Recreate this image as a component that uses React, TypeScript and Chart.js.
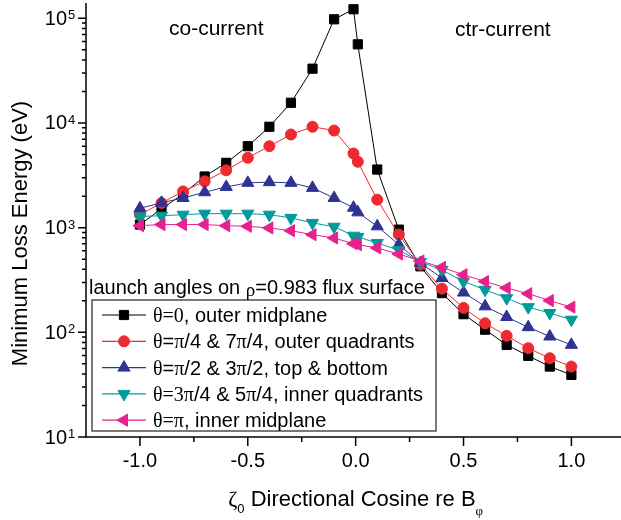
import React, { useEffect, useRef } from 'react';
import { Chart, registerables } from 'chart.js';

Chart.register(...registerables);

// ---------- data ----------
const zeta = [-1.0, -0.9, -0.8, -0.7, -0.6, -0.5, -0.4, -0.3, -0.2, -0.1, -0.01, 0.01, 0.1, 0.2, 0.3, 0.4, 0.5, 0.6, 0.7, 0.8, 0.9, 1.0];

const outerMidplane = [1070, 1510, 2100, 3080, 4160, 6000, 9200, 15600, 33000, 97800, 122000, 56400, 3590, 957, 427, 237, 149, 106, 75.9, 59.6, 47.1, 39.2];
const outerQuadrants = [1330, 1720, 2220, 2770, 3530, 4650, 6000, 7760, 9200, 8470, 5110, 4260, 1850, 860, 443, 261, 171, 122, 92.6, 70.6, 56.6, 47.1];
const topBottom = [1530, 1730, 1920, 2180, 2450, 2680, 2720, 2680, 2400, 1920, 1550, 1400, 1030, 687, 459, 330, 240, 177, 140, 112, 91.2, 75.9];
const innerQuadrants = [1280, 1300, 1330, 1360, 1360, 1360, 1330, 1240, 1110, 1020, 838, 815, 714, 610, 470, 396, 306, 255, 212, 174, 153, 132];
const innerMidplane = [1045, 1070, 1070, 1070, 1045, 1030, 993, 935, 857, 796, 703, 687, 640, 560, 480, 417, 355, 306, 265, 234, 201, 174];

const xMajorTicks = [-1.0, -0.5, 0.0, 0.5, 1.0];
const xMinorTicks = [-0.75, -0.25, 0.25, 0.75];
const yMajorTicks = [10, 100, 1000, 10000, 100000];
const yExponents = ['1', '2', '3', '4', '5'];

const yTitle = 'Minimum Loss Energy (eV)';
const legendTitle = 'launch angles on ';
const annotationLeft = 'co-current';
const annotationRight = 'ctr-current';

type Run = { t: string; serif?: boolean; size?: number; dy?: number };

const legendLabels: Run[][] = [
  [{ t: 'θ=0', serif: true }, { t: ', outer midplane' }],
  [{ t: 'θ', serif: true }, { t: '=' }, { t: 'π', serif: true }, { t: '/4 & 7' }, { t: 'π', serif: true }, { t: '/4, outer quadrants' }],
  [{ t: 'θ', serif: true }, { t: '=' }, { t: 'π', serif: true }, { t: '/2 & 3' }, { t: 'π', serif: true }, { t: '/2, top & bottom' }],
  [{ t: 'θ=3π', serif: true }, { t: '/4 & 5' }, { t: 'π', serif: true }, { t: '/4, inner quadrants' }],
  [{ t: 'θ=π', serif: true }, { t: ', inner midplane' }],
];

const legendTitleRuns: Run[] = [
  { t: legendTitle },
  { t: 'ρ', serif: true, size: 19, dy: 2 },
  { t: '=0.983 flux' },
  { t: ' surface' },
];

const xTitleRuns: Run[] = [
  { t: 'ζ', serif: true, size: 22 },
  { t: '0', size: 13, dy: 7 },
  { t: ' Directional Cosine re B', size: 22 },
  { t: 'φ', serif: true, size: 13, dy: 9 },
];

const seriesData = [outerMidplane, outerQuadrants, topBottom, innerQuadrants, innerMidplane];
const seriesColors = ['#000000', '#ec2a2f', '#2f3393', '#009a9a', '#e6218d'];
const seriesStyles = ['rect', 'circle', 'triangle', 'triangle', 'triangle'];
const seriesRotations = [0, 0, 0, 180, -90];
const seriesRadii = [6.5, 5.5, 7, 7, 7];

const SANS = '"Liberation Sans", Arial, sans-serif';
const SERIF = '"Liberation Serif", "Times New Roman", serif';

function drawRuns(ctx: CanvasRenderingContext2D, runs: Run[], x: number, y: number, size: number) {
  let cx = x;
  for (const r of runs) {
    ctx.font = `${r.size ?? size}px ${r.serif ? SERIF : SANS}`;
    ctx.fillText(r.t, cx, y + (r.dy ?? 0));
    cx += ctx.measureText(r.t).width;
  }
  return cx;
}

function runsWidth(ctx: CanvasRenderingContext2D, runs: Run[], size: number) {
  let w = 0;
  for (const r of runs) {
    ctx.font = `${r.size ?? size}px ${r.serif ? SERIF : SANS}`;
    w += ctx.measureText(r.t).width;
  }
  return w;
}

function drawMarker(ctx: CanvasRenderingContext2D, style: string, x: number, y: number, r: number, rotDeg: number, color: string) {
  ctx.save();
  ctx.fillStyle = color;
  ctx.strokeStyle = color;
  ctx.lineWidth = 1;
  ctx.beginPath();
  if (style === 'rect') {
    const s = r * Math.SQRT1_2;
    ctx.rect(x - s, y - s, 2 * s, 2 * s);
  } else if (style === 'circle') {
    ctx.arc(x, y, r, 0, Math.PI * 2);
  } else {
    let rad = (rotDeg * Math.PI) / 180;
    ctx.moveTo(x + Math.sin(rad) * r, y - Math.cos(rad) * r);
    rad += (2 * Math.PI) / 3;
    ctx.lineTo(x + Math.sin(rad) * r, y - Math.cos(rad) * r);
    rad += (2 * Math.PI) / 3;
    ctx.lineTo(x + Math.sin(rad) * r, y - Math.cos(rad) * r);
    ctx.closePath();
  }
  ctx.fill();
  ctx.stroke();
  ctx.restore();
}

const decorPlugin = {
  id: 'decor',
  afterDraw(chart: any) {
    const { ctx, chartArea: ca } = chart;
    const xs = chart.scales.x;
    const ys = chart.scales.y;
    ctx.save();
    ctx.strokeStyle = '#000';
    ctx.fillStyle = '#000';
    ctx.lineWidth = 1.5;

    // axes lines
    ctx.beginPath();
    ctx.moveTo(ca.left, ca.top);
    ctx.lineTo(ca.left, ca.bottom + 0.75);
    ctx.moveTo(ca.left - 0.75, ca.bottom);
    ctx.lineTo(ca.right, ca.bottom);
    ctx.stroke();

    // x ticks
    ctx.beginPath();
    for (const v of xMajorTicks) {
      const px = xs.getPixelForValue(v);
      ctx.moveTo(px, ca.bottom);
      ctx.lineTo(px, ca.bottom + 9);
    }
    for (const v of xMinorTicks) {
      const px = xs.getPixelForValue(v);
      ctx.moveTo(px, ca.bottom);
      ctx.lineTo(px, ca.bottom + 5);
    }
    // y ticks
    for (const v of yMajorTicks) {
      const py = ys.getPixelForValue(v);
      ctx.moveTo(ca.left, py);
      ctx.lineTo(ca.left - 8, py);
      for (let k = 2; k <= 9; k++) {
        const mv = v * k;
        if (mv > ys.max) break;
        const mp = ys.getPixelForValue(mv);
        ctx.moveTo(ca.left, mp);
        ctx.lineTo(ca.left - 4, mp);
      }
    }
    ctx.stroke();

    // x tick labels
    ctx.font = `20px ${SANS}`;
    ctx.textAlign = 'center';
    ctx.textBaseline = 'middle';
    for (const v of xMajorTicks) {
      ctx.fillText(v.toFixed(1), xs.getPixelForValue(v), ca.bottom + 24);
    }

    // y tick labels
    yMajorTicks.forEach((v, i) => {
      const py = ys.getPixelForValue(v);
      ctx.font = `20px ${SANS}`;
      ctx.textAlign = 'right';
      ctx.textBaseline = 'middle';
      ctx.fillText('10', ca.left - 19, py + 1);
      ctx.font = `13px ${SANS}`;
      ctx.textAlign = 'left';
      ctx.textBaseline = 'alphabetic';
      ctx.fillText(yExponents[i], ca.left - 18, py + 1);
    });

    // y title
    ctx.save();
    ctx.translate(27, 233.5);
    ctx.rotate(-Math.PI / 2);
    ctx.font = `22px ${SANS}`;
    ctx.textAlign = 'center';
    ctx.textBaseline = 'alphabetic';
    ctx.fillText(yTitle, 0, 0);
    ctx.restore();

    // x title
    ctx.textAlign = 'left';
    ctx.textBaseline = 'alphabetic';
    const xw = runsWidth(ctx, xTitleRuns, 22);
    const xc = xs.getPixelForValue(0);
    drawRuns(ctx, xTitleRuns, xc - xw / 2, 506, 22);

    // annotations
    ctx.font = `21px ${SANS}`;
    ctx.fillText(annotationLeft, 169, 35);
    ctx.fillText(annotationRight, 455, 36);

    // legend
    const lx = ca.left + 6;
    const lb = ca.bottom - 6;
    const lw = 344;
    const lh = 131;
    const lt = lb - lh;
    drawRuns(ctx, legendTitleRuns, ca.left + 3, lt - 6, 20);
    ctx.fillStyle = '#fff';
    ctx.fillRect(lx, lt, lw, lh);
    ctx.strokeStyle = '#222';
    ctx.lineWidth = 1.2;
    ctx.strokeRect(lx, lt, lw, lh);
    legendLabels.forEach((runs, i) => {
      const yy = lt + 15 + i * 26.3;
      const color = seriesColors[i];
      ctx.strokeStyle = color;
      ctx.lineWidth = 1.2;
      ctx.beginPath();
      ctx.moveTo(lx + 10, yy);
      ctx.lineTo(lx + 54, yy);
      ctx.stroke();
      drawMarker(ctx, seriesStyles[i], lx + 32, yy, seriesRadii[i], seriesRotations[i], color);
      ctx.fillStyle = '#000';
      drawRuns(ctx, runs, lx + 61, yy + 7, 20);
    });
    ctx.restore();
  },
};

export default function App() {
  const canvasRef = useRef<HTMLCanvasElement | null>(null);

  useEffect(() => {
    if (!canvasRef.current) return;
    const datasets = seriesData.map((arr, i) => ({
      label: `series${i}`,
      data: zeta.map((x, j) => ({ x, y: arr[j] })),
      borderColor: seriesColors[i],
      backgroundColor: seriesColors[i],
      pointBackgroundColor: seriesColors[i],
      pointBorderColor: seriesColors[i],
      pointBorderWidth: 1,
      pointStyle: seriesStyles[i] as any,
      pointRotation: seriesRotations[i],
      pointRadius: seriesRadii[i],
      borderWidth: 1,
      tension: 0,
      fill: false,
      order: 5 - i,
      clip: false as any,
    }));

    const chart = new Chart(canvasRef.current, {
      type: 'line',
      data: { datasets },
      options: {
        animation: false,
        responsive: false,
        events: [],
        layout: { autoPadding: false, padding: { top: 3, right: 0, left: 0, bottom: 0 } },
        plugins: { legend: { display: false }, tooltip: { enabled: false } },
        scales: {
          x: {
            type: 'linear',
            min: -1.25,
            max: 1.23,
            grid: { display: false },
            border: { display: false },
            ticks: { display: false },
            afterFit: (s: any) => { s.height = 83; },
          },
          y: {
            type: 'logarithmic',
            min: 10,
            max: 140000,
            grid: { display: false },
            border: { display: false },
            ticks: { display: false },
            afterFit: (s: any) => { s.width = 86; },
          },
        },
      },
      plugins: [decorPlugin],
    });
    return () => chart.destroy();
  }, []);

  return (
    <div style={{ position: 'absolute', left: 0, top: 0, width: 621, height: 520, background: '#fff', overflow: 'hidden' }}>
      <canvas ref={canvasRef} width={621} height={520} style={{ width: 621, height: 520, display: 'block' }} />
    </div>
  );
}
